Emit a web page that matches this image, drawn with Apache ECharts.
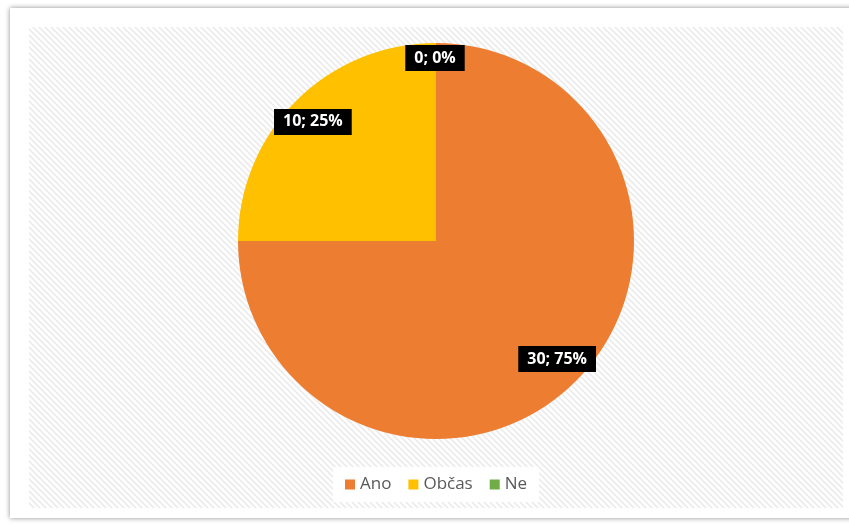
<!DOCTYPE html>
<html><head><meta charset="utf-8">
<script src="https://cdn.jsdelivr.net/npm/echarts@6/dist/echarts.min.js"></script>
<style>html,body{margin:0;padding:0;background:#fff}#c{width:849px;height:525px}</style>
</head><body><div id="c"></div>
<script>
const categories = ['Ano', 'Občas', 'Ne'];
const values = [30, 10, 0];
const colors = ['#ED7D31', '#FFC000', '#70AD47'];
const labelOffsets = [[49, 46], [-51, -47], [-1, -81]];

const pc = document.createElement('canvas');
pc.width = 6; pc.height = 6;
const g = pc.getContext('2d');
g.fillStyle = '#ffffff'; g.fillRect(0, 0, 6, 6);
g.strokeStyle = '#ebebeb'; g.lineWidth = 1.6;
g.beginPath();
g.moveTo(-1, -1); g.lineTo(7, 7);
g.moveTo(-4, 2); g.lineTo(4, 10);
g.moveTo(2, -4); g.lineTo(10, 4);
g.stroke();

const chart = echarts.init(document.getElementById('c'));
const total = values.reduce((a, b) => a + b, 0);
chart.setOption({
  animation: false,
  graphic: [
    { type: 'rect', z: -10, shape: { x: 10, y: 8, width: 860, height: 510 },
      style: { fill: '#fff', shadowBlur: 5, shadowColor: 'rgba(0,0,0,0.45)', shadowOffsetX: 0, shadowOffsetY: 0 } },
    { type: 'rect', z: -9, shape: { x: 29, y: 27, width: 814, height: 481 },
      style: { fill: { image: pc, repeat: 'repeat' } } }
  ],
  legend: {
    bottom: 23, left: 333,
    data: categories,
    itemWidth: 10, itemHeight: 10, itemGap: 17,
    icon: 'rect',
    backgroundColor: '#fff',
    padding: [9, 12],
    textStyle: { color: '#595959', fontSize: 17, fontFamily: 'Open Sans' }
  },
  series: [{
    type: 'pie',
    center: [436, 241],
    radius: [0, 198],
    startAngle: 90,
    clockwise: true,
    avoidLabelOverlap: false,
    minShowLabelAngle: -1,
    stillShowZeroSum: true,
    label: {
      show: true, position: 'inside',
      formatter: p => p.value + '; ' + Math.round(p.value / total * 100) + '%',
      color: '#fff', backgroundColor: '#000', fontWeight: 'bold', fontSize: 16,
      fontFamily: 'Open Sans', padding: [5, 9]
    },
    labelLine: { show: false },
    emphasis: { disabled: true },
    itemStyle: { borderWidth: 0 },
    data: categories.map((c, i) => ({
      name: c, value: values[i],
      itemStyle: { color: colors[i] },
      label: { offset: labelOffsets[i] }
    }))
  }]
});
</script></body></html>
